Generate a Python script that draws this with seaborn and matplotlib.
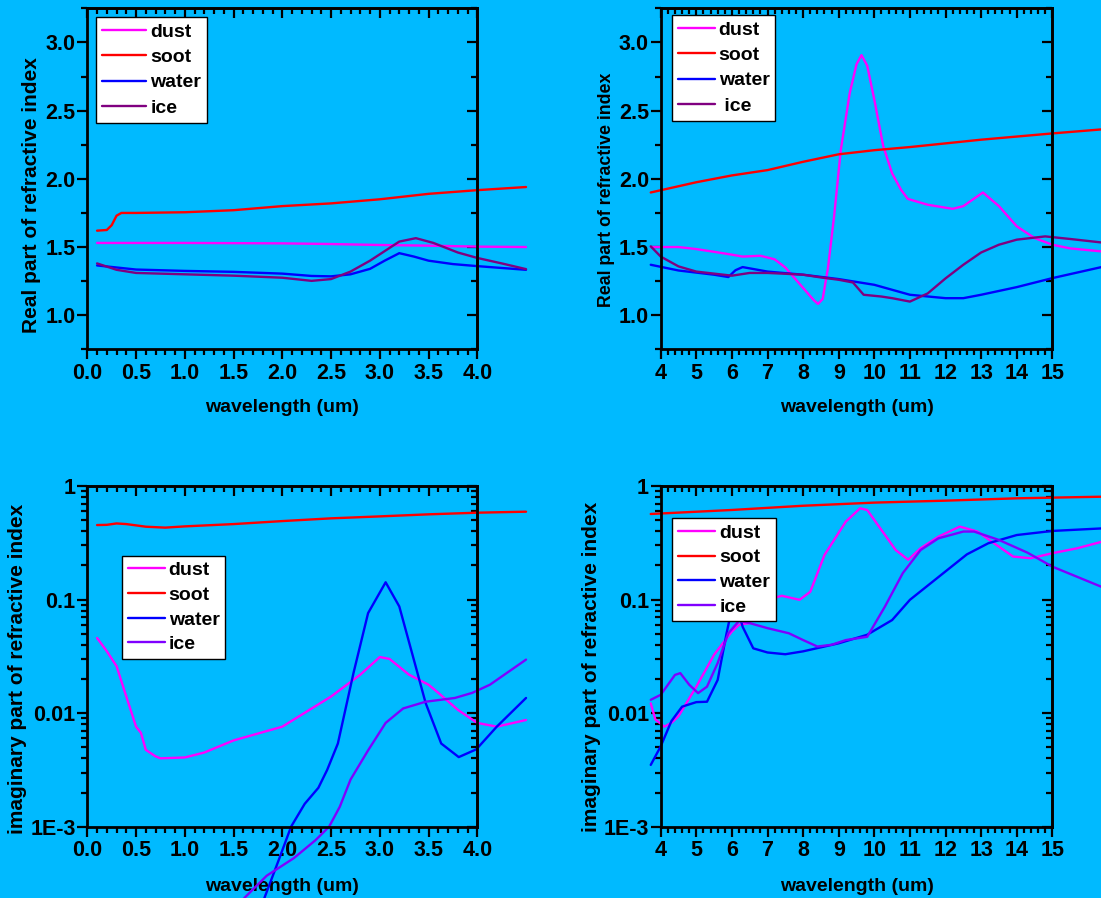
import matplotlib.pyplot as plt
import seaborn as sns
from matplotlib.ticker import (MultipleLocator, FixedLocator, FixedFormatter,
                               LogLocator, NullFormatter, FormatStrFormatter)

# ---- data ----
# real part, 0.1 - 4.5 um
tl_dust_wl = [0.1, 1.0, 2.0, 2.5, 3.0, 3.5, 4.0, 4.5]
tl_dust = [1.53, 1.53, 1.527, 1.522, 1.515, 1.51, 1.503, 1.50]
tl_soot_wl = [0.1, 0.2, 0.25, 0.3, 0.35, 0.5, 1.0, 1.5, 2.0, 2.5, 3.0, 3.5, 4.0, 4.5]
tl_soot = [1.62, 1.625, 1.66, 1.73, 1.75, 1.75, 1.755, 1.77, 1.80, 1.82, 1.85, 1.89, 1.917, 1.94]
tl_water_wl = [0.1, 0.3, 0.5, 1.0, 1.5, 2.0, 2.3, 2.5, 2.7, 2.9, 3.05, 3.2, 3.35, 3.5, 3.75, 4.0, 4.5]
tl_water = [1.365, 1.35, 1.335, 1.325, 1.318, 1.305, 1.288, 1.285, 1.30, 1.34, 1.40, 1.455,
            1.43, 1.40, 1.375, 1.36, 1.333]
tl_ice_wl = [0.1, 0.3, 0.5, 1.0, 1.5, 2.0, 2.3, 2.5, 2.7, 2.9, 3.05, 3.2, 3.37, 3.55, 3.8,
             4.0, 4.25, 4.5]
tl_ice = [1.38, 1.333, 1.31, 1.30, 1.29, 1.275, 1.252, 1.265, 1.32, 1.40, 1.47, 1.54, 1.565,
          1.53, 1.46, 1.42, 1.38, 1.338]

# real part, 3.7 - 16.5 um
tr_dust_wl = [3.72, 4.5, 5.0, 5.5, 6.0, 6.3, 6.8, 7.2, 7.5, 7.8, 8.1, 8.3, 8.42, 8.55, 8.7,
              8.87, 9.06, 9.31, 9.5, 9.64, 9.8, 10.0, 10.25, 10.5, 10.75, 10.94, 11.5, 12.2,
              12.5, 13.05, 13.5, 14.0, 14.5, 15.0, 15.5, 16.5]
tr_dust = [1.50, 1.50, 1.485, 1.465, 1.444, 1.43, 1.436, 1.41, 1.35, 1.26, 1.17, 1.11, 1.083,
           1.12, 1.35, 1.725, 2.215, 2.63, 2.84, 2.907, 2.83, 2.58, 2.24, 2.04, 1.92, 1.853,
           1.81, 1.78, 1.80, 1.90, 1.80, 1.652, 1.566, 1.517, 1.49, 1.465]
tr_soot_wl = [3.72, 5, 6, 7, 8, 9, 10, 11, 12, 13, 14, 15, 16.5]
tr_soot = [1.90, 1.975, 2.025, 2.064, 2.125, 2.18, 2.21, 2.233, 2.26, 2.287, 2.31, 2.333, 2.365]
tr_water_wl = [3.72, 4.5, 5.5, 5.9, 6.1, 6.3, 7.0, 8.0, 9.0, 10.0, 11.0, 12.0, 12.5, 13.0,
               14.0, 15.0, 16.5]
tr_water = [1.37, 1.328, 1.297, 1.28, 1.33, 1.353, 1.32, 1.297, 1.265, 1.223, 1.15, 1.125,
            1.125, 1.15, 1.206, 1.272, 1.36]
tr_ice_wl = [3.72, 4.0, 4.5, 5.0, 6.0, 6.5, 7.0, 7.5, 8.0, 8.5, 9.0, 9.4, 9.7, 10.2, 10.5,
             11.0, 11.5, 12.0, 12.5, 13.0, 13.5, 14.0, 14.8, 15.5, 16.5]
tr_ice = [1.505, 1.43, 1.358, 1.32, 1.29, 1.31, 1.31, 1.304, 1.297, 1.277, 1.26, 1.24, 1.15,
          1.137, 1.125, 1.10, 1.16, 1.27, 1.37, 1.46, 1.517, 1.554, 1.578, 1.559, 1.53]

# imaginary part, 0.1 - 4.5 um
bl_dust_wl = [0.1, 0.2, 0.3, 0.4, 0.5, 0.55, 0.6, 0.7, 0.75, 1.0, 1.2, 1.5, 2.0, 2.5, 2.8,
              3.0, 3.1, 3.3, 3.5, 3.6, 3.8, 4.0, 4.2, 4.5]
bl_dust = [0.0459, 0.0351, 0.0259, 0.014, 0.0076, 0.0067, 0.00475, 0.00416, 0.0040, 0.00407,
           0.0045, 0.00575, 0.0076, 0.014, 0.0218, 0.0312, 0.030, 0.0218, 0.0178, 0.0151,
           0.0107, 0.0082, 0.0076, 0.0087]
bl_soot_wl = [0.1, 0.2, 0.3, 0.4, 0.5, 0.6, 0.8, 1.0, 1.5, 2.0, 2.5, 3.0, 3.5, 4.0, 4.5]
bl_soot = [0.453, 0.455, 0.468, 0.462, 0.45, 0.438, 0.43, 0.441, 0.462, 0.491, 0.519, 0.54,
           0.563, 0.582, 0.594]
bl_water_wl = [1.7, 1.82, 1.96, 2.09, 2.23, 2.37, 2.46, 2.57, 2.73, 2.88, 3.06, 3.2, 3.34,
               3.47, 3.63, 3.81, 3.99, 4.2, 4.5]
bl_water = [1.3e-4, 2.4e-4, 5.0e-4, 1.0e-3, 1.59e-3, 2.2e-3, 3.16e-3, 5.4e-3, 0.0225, 0.076,
            0.142, 0.087, 0.0316, 0.0123, 0.0054, 0.0041, 0.0048, 0.0076, 0.0136]
bl_ice_wl = [1.4, 1.62, 1.84, 2.12, 2.34, 2.48, 2.59, 2.70, 2.88, 3.06, 3.24, 3.47, 3.77,
             3.95, 4.13, 4.5]
bl_ice = [1.5e-4, 2.4e-4, 3.7e-4, 5.3e-4, 7.6e-4, 1.0e-3, 1.5e-3, 2.6e-3, 4.7e-3, 8.2e-3,
          0.011, 0.0126, 0.0136, 0.0151, 0.0178, 0.0296]

# imaginary part, 3.7 - 16.5 um
br_dust_wl = [3.72, 3.85, 4.1, 4.3, 4.5, 5.0, 5.5, 6.0, 6.2, 6.5, 7.0, 7.4, 7.9, 8.2, 8.6,
              9.2, 9.6, 9.8, 10.2, 10.6, 10.95, 11.3, 11.8, 12.4, 12.9, 13.3, 13.9, 14.4,
              15.0, 15.7, 16.5]
br_dust = [0.0122, 0.0088, 0.0076, 0.0082, 0.0094, 0.0171, 0.0327, 0.0524, 0.060, 0.062,
           0.0995, 0.108, 0.0995, 0.117, 0.247, 0.486, 0.636, 0.615, 0.41, 0.273, 0.224,
           0.283, 0.358, 0.439, 0.397, 0.323, 0.239, 0.231, 0.256, 0.283, 0.33]
br_soot_wl = [3.72, 6, 8, 10, 12, 14, 15, 16.5]
br_soot = [0.567, 0.615, 0.67, 0.714, 0.743, 0.779, 0.79, 0.806]
br_water_wl = [3.72, 4.0, 4.3, 4.6, 5.0, 5.3, 5.6, 5.85, 6.0, 6.12, 6.3, 6.6, 7.0, 7.5, 8.0,
               9.0, 9.8, 10.5, 11.0, 12.0, 12.6, 13.2, 14.0, 15.0, 16.5]
br_water = [0.0035, 0.0051, 0.0085, 0.0114, 0.0125, 0.0126, 0.0196, 0.0505, 0.0838, 0.095,
            0.0577, 0.0372, 0.0342, 0.033, 0.035, 0.0412, 0.049, 0.066, 0.0995, 0.177, 0.25,
            0.313, 0.37, 0.402, 0.425]
br_ice_wl = [3.72, 4.0, 4.4, 4.55, 4.8, 5.05, 5.3, 5.6, 5.9, 6.2, 6.5, 7.0, 7.6, 8.0, 8.4,
             8.8, 9.2, 9.8, 10.3, 10.8, 11.3, 11.8, 12.5, 12.8, 13.5, 14.3, 15.0, 16.5]
br_ice = [0.0131, 0.0145, 0.0217, 0.0225, 0.0178, 0.015, 0.0171, 0.0276, 0.0505, 0.065,
          0.062, 0.056, 0.0505, 0.044, 0.0386, 0.04, 0.044, 0.047, 0.087, 0.171, 0.273,
          0.346, 0.397, 0.397, 0.335, 0.259, 0.195, 0.125]

log_ticks = [1e-3, 1e-2, 1e-1, 1]
log_tick_labels = ['1E-3', '0.01', '0.1', '1']

BG = '#00baff'
colors = {'dust': '#ff00ff', 'soot': '#ff0000', 'water': '#0000ff'}

sns.set_theme(style='ticks')
plt.rcParams['font.family'] = ['Liberation Sans', 'DejaVu Sans']
plt.rcParams['font.weight'] = 'bold'
plt.rcParams['axes.labelweight'] = 'bold'
plt.rcParams['text.color'] = 'black'
plt.rcParams['axes.labelcolor'] = 'black'
plt.rcParams['xtick.color'] = 'black'
plt.rcParams['ytick.color'] = 'black'


def draw_lines(ax, series):
    for label, wl, vals, color in series:
        sns.lineplot(x=wl, y=vals, color=color, linewidth=1.7, label=label, ax=ax)
    for line in ax.lines:
        line.set_clip_on(False)


def add_ticks(ax, xmaj, xmin, ymaj, ymin):
    ax.xaxis.set_major_locator(xmaj)
    ax.xaxis.set_minor_locator(xmin)
    ax.yaxis.set_major_locator(ymaj)
    ax.yaxis.set_minor_locator(ymin)


def style_axes(ax, xlim, xstep, xminor, xfmt, log):
    ax.set_facecolor(BG)
    ax.set_xlim(*xlim)
    if log:
        ax.set_yscale('log')
        ax.set_ylim(1e-3, 1)
        ymaj = lambda: FixedLocator(log_ticks)
        ymin = lambda: LogLocator(base=10, subs=range(2, 10))
    else:
        ax.set_ylim(0.75, 3.25)
        ymaj = lambda: MultipleLocator(0.5)
        ymin = lambda: MultipleLocator(0.25)
    add_ticks(ax, MultipleLocator(xstep), MultipleLocator(xminor), ymaj(), ymin())
    ax.xaxis.set_major_formatter(FormatStrFormatter(xfmt))
    if log:
        ax.yaxis.set_major_formatter(FixedFormatter(log_tick_labels))
        ax.yaxis.set_minor_formatter(NullFormatter())
    else:
        ax.yaxis.set_major_formatter(FormatStrFormatter('%.1f'))
    for sp in ax.spines.values():
        sp.set_visible(True)
        sp.set_linewidth(2)
        sp.set_color('black')
    ax.tick_params(which='both', direction='out', width=1.6, labelsize=15.5,
                   top=False, right=False)
    ax.tick_params(which='major', length=7)
    ax.tick_params(which='minor', length=4)
    ax.tick_params(axis='y', pad=1.5)
    ax.tick_params(axis='x', pad=2.5)

    # Origin style: ticks on top/right point inwards
    top = ax.secondary_xaxis('top')
    top.xaxis.set_major_locator(MultipleLocator(xstep))
    top.xaxis.set_minor_locator(MultipleLocator(xminor))
    top.tick_params(which='both', direction='in', width=1.6, labeltop=False)
    top.tick_params(which='major', length=7)
    top.tick_params(which='minor', length=4)
    top.spines['top'].set_linewidth(2)
    right = ax.secondary_yaxis('right')
    right.yaxis.set_major_locator(ymaj())
    right.yaxis.set_minor_locator(ymin())
    right.tick_params(which='both', direction='in', width=1.6, labelright=False)
    right.tick_params(which='major', length=7)
    right.tick_params(which='minor', length=4)
    right.spines['right'].set_linewidth(2)


def add_legend(ax, anchor, handlelength=2.3, spacing=0.4):
    handles, labels = ax.get_legend_handles_labels()
    leg = ax.legend(handles, labels, loc='upper left', bbox_to_anchor=anchor,
                    borderaxespad=0, fancybox=False, framealpha=1, edgecolor='black',
                    facecolor='white', fontsize=14, handlelength=handlelength,
                    handletextpad=0.2, labelspacing=spacing, borderpad=0.3)
    leg.get_frame().set_linewidth(1)
    leg.set_zorder(10)
    for t in leg.get_texts():
        t.set_fontweight('bold')


fig = plt.figure(figsize=(11.01, 8.98), dpi=100, facecolor=BG)
ax_tl = fig.add_axes([0.0793, 0.611, 0.3542, 0.3797])
ax_tr = fig.add_axes([0.6001, 0.611, 0.3557, 0.3797])
ax_bl = fig.add_axes([0.0793, 0.0794, 0.3542, 0.3794])
ax_br = fig.add_axes([0.6001, 0.0794, 0.3557, 0.3794])

draw_lines(ax_tl, [('dust', tl_dust_wl, tl_dust, colors['dust']),
                   ('soot', tl_soot_wl, tl_soot, colors['soot']),
                   ('water', tl_water_wl, tl_water, colors['water']),
                   ('ice', tl_ice_wl, tl_ice, '#800080')])
draw_lines(ax_tr, [('dust', tr_dust_wl, tr_dust, colors['dust']),
                   ('soot', tr_soot_wl, tr_soot, colors['soot']),
                   ('water', tr_water_wl, tr_water, colors['water']),
                   (' ice', tr_ice_wl, tr_ice, '#800080')])
draw_lines(ax_bl, [('dust', bl_dust_wl, bl_dust, colors['dust']),
                   ('soot', bl_soot_wl, bl_soot, colors['soot']),
                   ('water', bl_water_wl, bl_water, colors['water']),
                   ('ice', bl_ice_wl, bl_ice, '#8000ff')])
draw_lines(ax_br, [('dust', br_dust_wl, br_dust, colors['dust']),
                   ('soot', br_soot_wl, br_soot, colors['soot']),
                   ('water', br_water_wl, br_water, colors['water']),
                   ('ice', br_ice_wl, br_ice, '#8000ff')])

style_axes(ax_tl, (0, 4.0), 0.5, 0.1, '%.1f', log=False)
style_axes(ax_tr, (4, 15), 1, 0.2, '%d', log=False)
style_axes(ax_bl, (0, 4.0), 0.5, 0.1, '%.1f', log=True)
style_axes(ax_br, (4, 15), 1, 0.2, '%d', log=True)

add_legend(ax_tl, (0.022, 0.974), handlelength=2.3, spacing=0.4)
add_legend(ax_tr, (0.029, 0.98), handlelength=1.9, spacing=0.4)
add_legend(ax_bl, (0.089, 0.795), handlelength=1.9, spacing=0.36)
add_legend(ax_br, (0.03, 0.905), handlelength=1.9, spacing=0.36)

for ax in (ax_tl, ax_tr):
    ax.set_xlabel('wavelength (um)', fontsize=14, fontweight='bold')
    ax.xaxis.set_label_coords(0.5, -0.145)
for ax in (ax_bl, ax_br):
    ax.set_xlabel('wavelength (um)', fontsize=14, fontweight='bold')
    ax.xaxis.set_label_coords(0.5, -0.152)

ax_tl.set_ylabel('Real part of refractive index', fontsize=15, fontweight='bold')
ax_tl.yaxis.set_label_coords(-0.119, 0.452)
ax_tr.set_ylabel('Real part of refractive index', fontsize=12.8, fontweight='bold')
ax_tr.yaxis.set_label_coords(-0.117, 0.467)
ax_bl.set_ylabel('imaginary part of refractive index', fontsize=15, fontweight='bold')
ax_bl.yaxis.set_label_coords(-0.155, 0.463)
ax_br.set_ylabel('imaginary part of refractive index', fontsize=15, fontweight='bold')
ax_br.yaxis.set_label_coords(-0.152, 0.469)

fig.savefig('out.png', dpi=100, facecolor=BG)
